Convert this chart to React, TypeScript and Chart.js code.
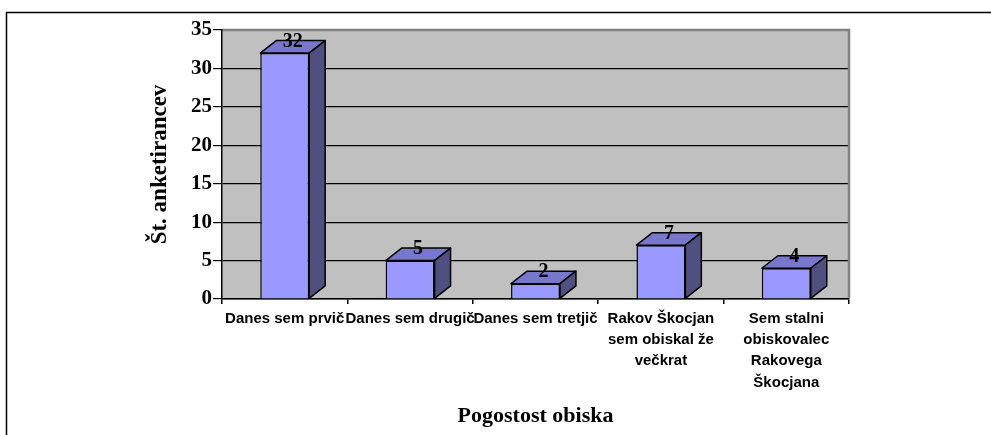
import React, { useEffect, useRef } from "react";
import { Chart, registerables } from "chart.js";

Chart.register(...registerables);

const categories: string[][] = [
  ["Danes sem prvič"],
  ["Danes sem drugič"],
  ["Danes sem tretjič"],
  ["Rakov Škocjan", "sem obiskal že", "večkrat"],
  ["Sem stalni", "obiskovalec", "Rakovega", "Škocjana"],
];
const values: number[] = [32, 5, 2, 7, 4];
const yMax = 35;
const yStep = 5;
const yTitle = "Št. anketirancev";
const xTitle = "Pogostost obiska";

const SERIF = "'Times New Roman', 'Liberation Serif', serif";
const SANS = "Arial, 'Liberation Sans', sans-serif";
const DX = 16;
const DY = 12.5;

const bar3d = {
  id: "bar3d",
  beforeDraw(chart: any) {
    const { ctx, chartArea: a } = chart;
    ctx.save();
    ctx.fillStyle = "#ffffff";
    ctx.fillRect(0, 0, chart.width, chart.height);
    ctx.strokeStyle = "#000000";
    ctx.lineWidth = 1.5;
    ctx.strokeRect(6.5, 12.5, chart.width + 50, chart.height + 50);
    ctx.fillStyle = "#C0C0C0";
    ctx.fillRect(a.left, a.top, a.right - a.left, a.bottom - a.top);
    ctx.restore();
  },
  afterDatasetsDraw(chart: any) {
    const { ctx, chartArea: a } = chart;
    ctx.save();
    ctx.strokeStyle = "#808080";
    ctx.lineWidth = 2.5;
    ctx.beginPath();
    ctx.moveTo(a.left + 1, a.top);
    ctx.lineTo(a.right, a.top);
    ctx.lineTo(a.right, a.bottom - 1);
    ctx.stroke();

    const meta = chart.getDatasetMeta(0);
    ctx.lineWidth = 1.5;
    ctx.strokeStyle = "#000000";
    ctx.lineJoin = "round";
    meta.data.forEach((el: any) => {
      const { x, y, base, width } = el.getProps(["x", "y", "base", "width"], true);
      const l = x - width / 2;
      const r = x + width / 2;
      ctx.beginPath();
      ctx.moveTo(l, y);
      ctx.lineTo(l + DX, y - DY);
      ctx.lineTo(r + DX, y - DY);
      ctx.lineTo(r, y);
      ctx.closePath();
      ctx.fillStyle = "#7777CC";
      ctx.fill();
      ctx.stroke();
      ctx.beginPath();
      ctx.moveTo(r, y);
      ctx.lineTo(r + DX, y - DY);
      ctx.lineTo(r + DX, base - DY);
      ctx.lineTo(r, base);
      ctx.closePath();
      ctx.fillStyle = "#4F4F80";
      ctx.fill();
      ctx.stroke();
    });
    ctx.fillStyle = "#000000";
    ctx.font = `bold 20px ${SERIF}`;
    ctx.textAlign = "center";
    ctx.textBaseline = "middle";
    meta.data.forEach((el: any, i: number) => {
      const { x, y } = el.getProps(["x", "y"], true);
      ctx.fillText(String(values[i]), x + DX / 2, y - DY + 1);
    });
    ctx.restore();
  },
};

export default function App() {
  const ref = useRef<HTMLCanvasElement | null>(null);
  useEffect(() => {
    if (!ref.current) return;
    const chart = new Chart(ref.current, {
      type: "bar",
      data: {
        labels: categories,
        datasets: [
          {
            data: values,
            backgroundColor: "#9999FF",
            borderColor: "#000000",
            borderWidth: 1.5,
            categoryPercentage: 1,
            barPercentage: 0.39,
          },
        ],
      },
      options: {
        animation: false,
        responsive: false,
        maintainAspectRatio: false,
        layout: { padding: { top: 30, right: 142, left: 0, bottom: 0 } },
        plugins: {
          legend: { display: false },
          tooltip: { enabled: false },
          title: { display: false },
        },
        scales: {
          x: {
            afterFit: (s: any) => {
              s.height = 136;
            },
            grid: {
              offset: true,
              drawOnChartArea: false,
              drawTicks: true,
              tickLength: 5,
              color: "#000000",
              lineWidth: 1.5,
            },
            border: { color: "#000000", width: 1.5 },
            ticks: {
              autoSkip: false,
              maxRotation: 0,
              minRotation: 0,
              padding: 4,
              color: "#000000",
              font: { family: SANS, size: 15, weight: "bold", lineHeight: 1.42 },
            },
            title: {
              display: true,
              text: xTitle,
              color: "#000000",
              font: { family: SERIF, size: 22, weight: "bold", lineHeight: 1.2 },
              padding: { top: 0, bottom: 5 },
            },
          },
          y: {
            min: 0,
            max: yMax,
            afterFit: (s: any) => {
              s.width = 222;
            },
            grid: {
              color: "#000000",
              lineWidth: 1.2,
              drawTicks: true,
              tickLength: 9,
            },
            border: { color: "#000000", width: 1.5 },
            ticks: {
              stepSize: yStep,
              padding: 1,
              color: "#000000",
              font: { family: SERIF, size: 21, weight: "bold" },
            },
            title: {
              display: true,
              text: yTitle,
              color: "#000000",
              font: { family: SERIF, size: 23, weight: "bold", lineHeight: 1.2 },
              padding: { top: 146, bottom: 0 },
            },
          },
        },
      },
      plugins: [bar3d],
    });
    return () => chart.destroy();
  }, []);
  return (
    <div style={{ position: "absolute", left: 0, top: 0, width: 991, height: 435, background: "#fff" }}>
      <canvas ref={ref} width={991} height={435} style={{ width: 991, height: 435, display: "block" }} />
    </div>
  );
}
